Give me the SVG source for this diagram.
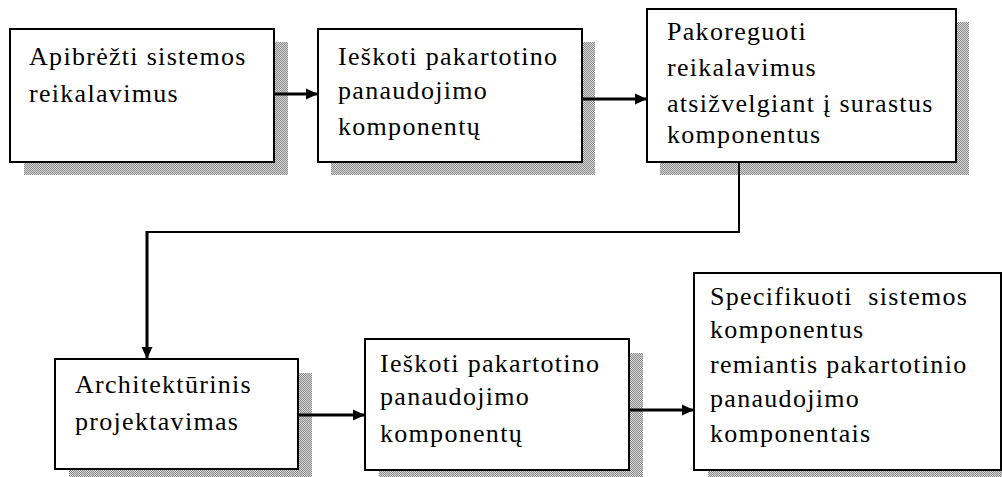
<svg xmlns="http://www.w3.org/2000/svg" width="1002" height="477" viewBox="0 0 1002 477">
  <defs>
    <!-- stippled drop shadow fill -->
    <pattern id="stipple" width="2" height="2" patternUnits="userSpaceOnUse">
      <rect width="2" height="2" fill="#d8d8d8"/>
      <rect width="1" height="1" fill="#8a8a8a"/>
      <rect x="1" y="1" width="1" height="1" fill="#8a8a8a"/>
    </pattern>
    <marker id="arrow" markerUnits="userSpaceOnUse" markerWidth="12" markerHeight="12" viewBox="0 0 12 12" refX="12" refY="6" orient="auto">
      <path d="M0,0.5 L12,6 L0,11.5 Z" fill="#000"/>
    </marker>
    <style>
      .box { fill: #fff; stroke: #000; stroke-width: 2; }
      .shadow { fill: url(#stipple); stroke: none; }
      text { font-family: 'Liberation Serif', 'Times New Roman', Times, serif; font-size: 26px; letter-spacing: 1.3px; fill: #000; }
      .conn { fill: none; stroke: #000; stroke-width: 3; }
      .thin { fill: none; stroke: #000; stroke-width: 2; }
    </style>
  </defs>
  <rect width="1002" height="477" fill="#fff"/>

  <g id="node-1" font-family="Liberation Serif, serif">
    <rect class="shadow" x="24" y="42" width="264" height="133"/>
    <rect class="box" x="10" y="29" width="264" height="133"/>
    <text x="29" y="65">Apibrėžti sistemos</text>
    <text x="29" y="102">reikalavimus</text>
  </g>

  <g id="node-2" font-family="Liberation Serif, serif">
    <rect class="shadow" x="331" y="42" width="264" height="133"/>
    <rect class="box" x="318" y="29" width="264" height="133"/>
    <text x="338" y="65">Ieškoti pakartotino</text>
    <text x="338" y="99">panaudojimo</text>
    <text x="338" y="135">komponentų</text>
  </g>

  <g id="node-3" font-family="Liberation Serif, serif">
    <rect class="shadow" x="660" y="22" width="309" height="153"/>
    <rect class="box" x="647" y="9" width="309" height="153"/>
    <text x="667" y="40">Pakoreguoti</text>
    <text x="667" y="76">reikalavimus</text>
    <text x="667" y="112">atsižvelgiant į surastus</text>
    <text x="667" y="143">komponentus</text>
  </g>

  <g id="node-4" font-family="Liberation Serif, serif">
    <rect class="shadow" x="69" y="373" width="243" height="110"/>
    <rect class="box" x="55" y="359" width="243" height="110"/>
    <text x="75" y="393">Architektūrinis</text>
    <text x="75" y="430">projektavimas</text>
  </g>

  <g id="node-5" font-family="Liberation Serif, serif">
    <rect class="shadow" x="379" y="353" width="264" height="131"/>
    <rect class="box" x="365" y="339" width="264" height="131"/>
    <text x="380" y="372">Ieškoti pakartotino</text>
    <text x="380" y="405">panaudojimo</text>
    <text x="380" y="442">komponentų</text>
  </g>

  <g id="node-6" font-family="Liberation Serif, serif">
    <rect class="shadow" x="708" y="286" width="307" height="197"/>
    <rect class="box" x="694" y="273" width="307" height="197"/>
    <text x="710" y="305" xml:space="preserve">Specifikuoti  sistemos</text>
    <text x="710" y="338">komponentus</text>
    <text x="710" y="373">remiantis pakartotinio</text>
    <text x="710" y="407">panaudojimo</text>
    <text x="710" y="442">komponentais</text>
  </g>

  <g id="connectors">
    <line class="conn" x1="275" y1="94" x2="318" y2="94" marker-end="url(#arrow)"/>
    <line class="conn" x1="583" y1="99" x2="647" y2="99" marker-end="url(#arrow)"/>
    <polyline class="thin" points="739,163 739,232 146,232"/>
    <line class="conn" x1="147" y1="231" x2="147" y2="359" marker-end="url(#arrow)"/>
    <line class="conn" x1="299" y1="415" x2="365" y2="415" marker-end="url(#arrow)"/>
    <line class="conn" x1="630" y1="410" x2="694" y2="410" marker-end="url(#arrow)"/>
  </g>
</svg>
